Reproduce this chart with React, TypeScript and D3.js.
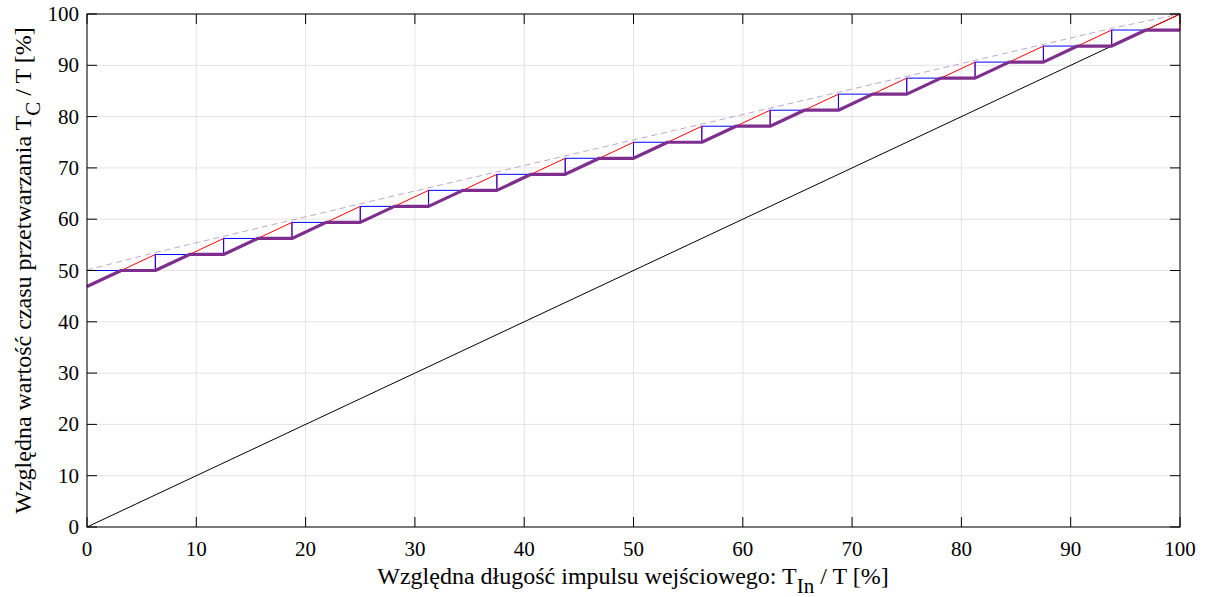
import React, { useRef, useEffect } from 'react';
import * as d3 from 'd3';

// step edges on the x axis (input pulse length, %)
const stepEdges = [0, 6.25, 12.5, 18.75, 25, 31.25, 37.5, 43.75, 50, 56.25, 62.5, 68.75, 75, 81.25, 87.5, 93.75, 100];
// quantized conversion time levels (%)
const stepLevels = [50, 53.125, 56.25, 59.375, 62.5, 65.625, 68.75, 71.875, 75, 78.125, 81.25, 84.375, 87.5, 90.625, 93.75, 96.875];
// x where the thick curve reaches each level
const rampEnds = [3.125, 9.375, 15.625, 21.875, 28.125, 34.375, 40.625, 46.875, 53.125, 59.375, 65.625, 71.875, 78.125, 84.375, 90.625, 96.875];
const rampStart = 46.875;
// dashed reference curve
const dashX = [0, 6.25, 25, 50, 75, 93.75, 100];
const dashY = [50.1, 53.5, 63.0, 75.45, 87.85, 97.2, 100];
// diagonal
const diagX = [0, 100];
const diagY = [0, 100];

const xTicks = [0, 10, 20, 30, 40, 50, 60, 70, 80, 90, 100];
const yTicks = [0, 10, 20, 30, 40, 50, 60, 70, 80, 90, 100];

const W = 1208, H = 597;
const m = { left: 87, right: 28, top: 14, bottom: 70 };

function App() {
  const svgRef = useRef<SVGSVGElement>(null);

  useEffect(() => {
    const svg = d3.select(svgRef.current);
    svg.selectAll('*').remove();
    const font = '"Liberation Serif", "Times New Roman", serif';

    const x = d3.scaleLinear().domain([0, 100]).range([m.left, W - m.right]);
    const y = d3.scaleLinear().domain([0, 100]).range([H - m.bottom, m.top]);
    const line = d3.line<[number, number]>().x(d => x(d[0])).y(d => y(d[1]));

    // grid
    const grid = svg.append('g');
    xTicks.forEach(t => grid.append('line')
      .attr('x1', x(t)).attr('x2', x(t)).attr('y1', y(0)).attr('y2', y(100))
      .attr('stroke', '#e3e3e3').attr('stroke-width', 1));
    yTicks.forEach(t => grid.append('line')
      .attr('x1', x(0)).attr('x2', x(100)).attr('y1', y(t)).attr('y2', y(t))
      .attr('stroke', '#e3e3e3').attr('stroke-width', 1));

    // diagonal
    svg.append('path').attr('d', line(diagX.map((v, i) => [v, diagY[i]] as [number, number])))
      .attr('fill', 'none').attr('stroke', '#000').attr('stroke-width', 1);

    // red sawtooth
    const red: [number, number][] = [];
    stepLevels.forEach((lv, k) => {
      const lo = k === 0 ? rampStart : stepLevels[k - 1];
      red.push([stepEdges[k], lo]);
      red.push([stepEdges[k + 1], lv + (lv - lo)]);
      red.push([stepEdges[k + 1], lv]);
    });
    svg.append('path').attr('d', line(red))
      .attr('fill', 'none').attr('stroke', '#ff0000').attr('stroke-width', 1);

    // blue staircase
    const blue: [number, number][] = [];
    stepLevels.forEach((lv, k) => {
      blue.push([stepEdges[k], lv]);
      blue.push([stepEdges[k + 1], lv]);
      if (k + 1 < stepLevels.length) blue.push([stepEdges[k + 1], stepLevels[k + 1]]);
    });
    svg.append('path').attr('d', line(blue))
      .attr('fill', 'none').attr('stroke', '#0000ff').attr('stroke-width', 1);

    // thick purple
    const purple: [number, number][] = [[0, rampStart]];
    stepLevels.forEach((lv, k) => {
      purple.push([rampEnds[k], lv]);
      purple.push([stepEdges[k + 1], lv]);
    });
    svg.append('path').attr('d', line(purple))
      .attr('fill', 'none').attr('stroke', '#7e2f8e').attr('stroke-width', 3.2)
      .attr('stroke-linejoin', 'round');

    // dashed curve
    svg.append('path').attr('d', line(dashX.map((v, i) => [v, dashY[i]] as [number, number])))
      .attr('fill', 'none').attr('stroke', '#b79ccb').attr('stroke-width', 0.9)
      .attr('stroke-dasharray', '6,4');

    // axes box + ticks
    const tl = 10;
    const ax = svg.append('g').attr('stroke', '#000').attr('stroke-width', 1);
    ax.append('rect').attr('x', x(0)).attr('y', y(100))
      .attr('width', x(100) - x(0)).attr('height', y(0) - y(100)).attr('fill', 'none');
    xTicks.forEach(t => {
      ax.append('line').attr('x1', x(t)).attr('x2', x(t)).attr('y1', y(0)).attr('y2', y(0) - tl);
      ax.append('line').attr('x1', x(t)).attr('x2', x(t)).attr('y1', y(100)).attr('y2', y(100) + tl);
    });
    yTicks.forEach(t => {
      ax.append('line').attr('x1', x(0)).attr('x2', x(0) + tl).attr('y1', y(t)).attr('y2', y(t));
      ax.append('line').attr('x1', x(100)).attr('x2', x(100) - tl).attr('y1', y(t)).attr('y2', y(t));
    });

    // tick labels
    svg.append('g').selectAll('text').data(xTicks).join('text')
      .attr('x', d => x(d)).attr('y', y(0) + 29)
      .attr('text-anchor', 'middle').attr('font-family', font).attr('font-size', 21)
      .text(d => d);
    svg.append('g').selectAll('text').data(yTicks).join('text')
      .attr('x', x(0) - 8).attr('y', d => y(d) + 7)
      .attr('text-anchor', 'end').attr('font-family', font).attr('font-size', 21)
      .text(d => d);

    // x label
    const xl = svg.append('text').attr('x', 633).attr('y', 584)
      .attr('text-anchor', 'middle').attr('font-family', font).attr('font-size', 24);
    xl.append('tspan').text('Względna długość impulsu wejściowego: T');
    xl.append('tspan').attr('dy', 9).attr('font-size', 21).text('In');
    xl.append('tspan').attr('dy', -9).text(' / T [%]');

    // y label
    const yl = svg.append('text').attr('transform', `translate(31,${(y(0) + y(100)) / 2}) rotate(-90)`)
      .attr('text-anchor', 'middle').attr('font-family', font).attr('font-size', 24);
    yl.append('tspan').text('Względna wartość czasu przetwarzania T');
    yl.append('tspan').attr('dy', 9).attr('font-size', 21).text('C');
    yl.append('tspan').attr('dy', -9).text(' / T [%]');
  }, []);

  return (
    <svg ref={svgRef} width={W} height={H}
      style={{ position: 'absolute', left: 0, top: 0, background: '#fff' }} />
  );
}

export default App;
